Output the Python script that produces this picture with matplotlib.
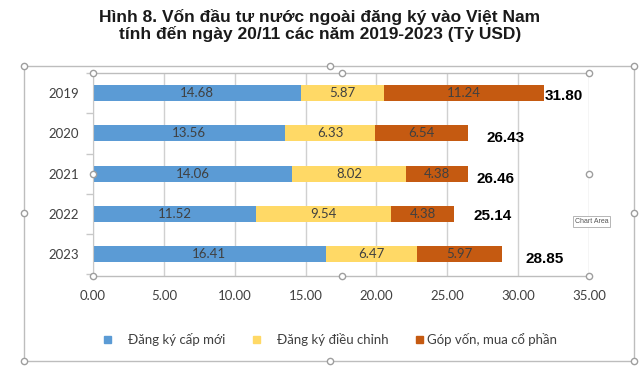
import matplotlib.pyplot as plt
from matplotlib.lines import Line2D
from matplotlib.patches import Rectangle
import numpy as np

years = ["2019", "2020", "2021", "2022", "2023"]
cap_moi = [14.68, 13.56, 14.06, 11.52, 16.41]
dieu_chinh = [5.87, 6.33, 8.02, 9.54, 6.47]
gop_von = [11.24, 6.54, 4.38, 4.38, 5.97]
totals = [31.80, 26.43, 26.46, 25.14, 28.85]
series_names = ["Đăng ký cấp mới", "Đăng ký điều chỉnh", "Góp vốn, mua cổ phần"]
xticks = [0, 5, 10, 15, 20, 25, 30, 35]

# where the total labels sit (they were moved by hand in the original)
total_x = [33.2, 29.1, 28.4, 28.2, 31.9]
total_dy = [0.07, 0.12, 0.12, 0.05, 0.12]

colors = ["#5B9BD5", "#FFD966", "#C55A11"]

fig = plt.figure(figsize=(6.4, 3.8), dpi=100)
W, H = 640, 380

def fx(px):
    return px / W

def fy(py):
    return 1 - py / H

ax = fig.add_axes([fx(93), fy(276), fx(589) - fx(93), fy(73) - fy(276)])

y = np.arange(len(years))
left = np.zeros(len(years))
for vals, col, name in zip([cap_moi, dieu_chinh, gop_von], colors, series_names):
    bars = ax.barh(y, vals, left=left, height=0.40, color=col, label=name, zorder=2)
    ax.bar_label(bars, labels=[f"{v:.2f}" for v in vals], label_type="center",
                 fontsize=9.5, color="#404040", family="Lato")
    left = left + np.array(vals)

for i, t in enumerate(totals):
    ax.text(total_x[i], y[i] + total_dy[i], f"{t:.2f}", ha="center", va="center",
            fontsize=11, fontweight="bold", family="Liberation Sans", color="#000000")

ax.set_xlim(0, 35)
ax.set_ylim(4.54, -0.47)
ax.set_xticks(xticks)
ax.set_xticklabels([f"{v:.2f}" for v in xticks], fontsize=9.5, family="Lato", color="#404040")
ax.set_yticks(y)
ax.set_yticklabels(years, fontsize=9.5, family="Lato", color="#404040")
ax.set_yticks([-0.5, 0.5, 1.5, 2.5, 3.5, 4.5], minor=True)
ax.tick_params(axis="x", length=0, pad=10)
ax.tick_params(axis="y", which="major", length=0, pad=10)
ax.tick_params(axis="y", which="minor", length=5, color="#C8C8C8", width=1)
ax.grid(axis="x", color="#D0D0D0", linewidth=1, zorder=0)
for s in ax.spines.values():
    s.set_visible(False)
ax.spines["left"].set_visible(True)
ax.spines["left"].set_color("#C8C8C8")

# title
fig.text(0.5, fy(25.5), "Hình 8. Vốn đầu tư nước ngoài đăng ký vào Việt Nam\ntính đến ngày 20/11 các năm 2019-2023 (Tỷ USD)",
         ha="center", va="center", fontsize=12.5, fontweight="bold", family="Liberation Sans",
         linespacing=1.1, color="#1a1a1a")

# legend, drawn item by item like the original
legend_marker_x = [107, 256, 419]
legend_text_x = [128, 277, 427]
for mx, tx, col, name in zip(legend_marker_x, legend_text_x, colors, series_names):
    fig.add_artist(Rectangle((fx(mx - 3.5), fy(339 + 3.5)), 7 / W, 7 / H, color=col,
                             transform=fig.transFigure))
    fig.text(fx(tx), fy(339), name, ha="left", va="center", fontsize=9.5, family="Lato",
             color="#404040")

# chart area / plot area selection frames
def hline(x0, x1, yy):
    fig.add_artist(Line2D([fx(x0), fx(x1)], [fy(yy), fy(yy)], color="#BDBDBD", lw=1))

def vline(xx, y0, y1):
    fig.add_artist(Line2D([fx(xx), fx(xx)], [fy(y0), fy(y1)], color="#BDBDBD", lw=1))

def handles_at(pts):
    for px, py in pts:
        fig.add_artist(Line2D([fx(px)], [fy(py)], marker="o", markersize=4.5,
                              markerfacecolor="white", markeredgecolor="#9E9E9E", lw=0))

hline(24, 634, 66)
hline(24, 634, 361)
vline(24, 66, 361)
vline(634, 66, 361)
hline(93, 589, 73)
hline(93, 589, 276)
handles_at([(24, 66), (330, 66), (634, 66), (24, 213), (634, 213),
            (24, 361), (330, 361), (634, 361),
            (93, 73), (342, 73), (589, 73), (93, 174), (589, 174),
            (93, 276), (342, 276), (589, 276)])

fig.text(fx(575), fy(221.5), "Chart Area", fontsize=5, family="Liberation Sans", color="#555555",
         va="center", bbox=dict(boxstyle="square,pad=0.25", fc="white", ec="#AAAAAA", lw=0.6))

fig.savefig("out.png", dpi=100)
